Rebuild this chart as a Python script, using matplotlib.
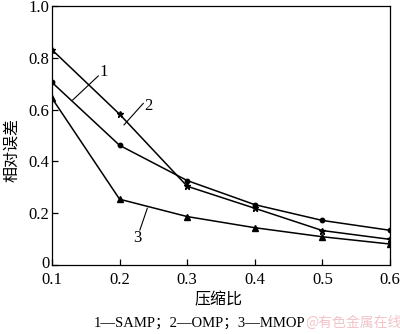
import matplotlib
matplotlib.use("Agg")
import matplotlib.pyplot as plt
import matplotlib.transforms as mtransforms

# compression ratio vs relative error
ratio = [0.1, 0.2, 0.3, 0.4, 0.5, 0.6]
samp = [0.705, 0.462, 0.326, 0.233, 0.172, 0.134]
omp = [0.831, 0.582, 0.304, 0.219, 0.133, 0.099]
mmop = [0.644, 0.254, 0.187, 0.144, 0.109, 0.081]

yticks = [0, 0.2, 0.4, 0.6, 0.8, 1.0]
ylabels = ["0", "0.2", "0.4", "0.6", "0.8", "1.0"]

serif = ["Liberation Serif", "DejaVu Serif"]
cjk = ["Noto Sans CJK SC", "DejaVu Sans"]

fig = plt.figure(figsize=(4.0, 3.34), dpi=100)
ax = fig.add_axes([52 / 400, 1 - 265 / 334, 338 / 400, 259 / 334])

ax.plot(ratio, samp, marker="o", markersize=3.2, color="black", linewidth=1.1)
ax.plot(ratio, omp, marker="*", markersize=5, color="black", linewidth=1.1)
ax.plot(ratio, mmop, marker="^", markersize=3.8, color="black", linewidth=1.1)

ax.set_xlim(0.1, 0.6)
ax.set_ylim(0, 1.0)
ax.set_xticks(ratio)
ax.set_xticklabels(["0.1", "0.2", "0.3", "0.4", "0.5", "0.6"])
ax.set_yticks(yticks)
ax.set_yticklabels(ylabels)
ax.tick_params(direction="in", length=4, width=0.9, labelsize=12, pad=2)
ax.tick_params(axis="x", pad=5)
for lab in ax.get_xticklabels() + ax.get_yticklabels():
    lab.set_family(serif)
# lift the "0" a little so it clears the "0.1" below it
zero = ax.get_yticklabels()[0]
zero.set_transform(zero.get_transform() +
                   mtransforms.ScaledTranslation(0, 3 / 100, fig.dpi_scale_trans))
for sp in ax.spines.values():
    sp.set_linewidth(0.9)

# curve labels with leader lines
ax.plot([0.1306, 0.1685], [0.637, 0.730], color="black", linewidth=0.8)
ax.text(0.170, 0.745, "1", family=serif, fontsize=12, va="center", ha="left")
ax.plot([0.2065, 0.235], [0.541, 0.624], color="black", linewidth=0.8)
ax.text(0.237, 0.612, "2", family=serif, fontsize=12, va="center", ha="left")
ax.plot([0.241, 0.230], [0.219, 0.135], color="black", linewidth=0.8)
ax.text(0.226, 0.105, "3", family=serif, fontsize=12, va="center", ha="center")

fig.text(12 / 400, 1 - 150 / 334, "相对误差", family=cjk, fontsize=11.5,
         rotation=90, ha="center", va="center")
fig.text(218 / 400, 1 - 300 / 334, "压缩比", family=cjk, fontsize=11.5,
         ha="center", va="center")
fig.text(200 / 400, 1 - 323 / 334, "1—SAMP；2—OMP；3—MMOP", family=serif + cjk,
         fontsize=10.5, ha="center", va="center")
fig.text(353 / 400, 1 - 323 / 334, "@有色金属在线", family=cjk, fontsize=10,
         color="#f2c4c8", ha="center", va="center")

fig.savefig("out.png", dpi=100)
